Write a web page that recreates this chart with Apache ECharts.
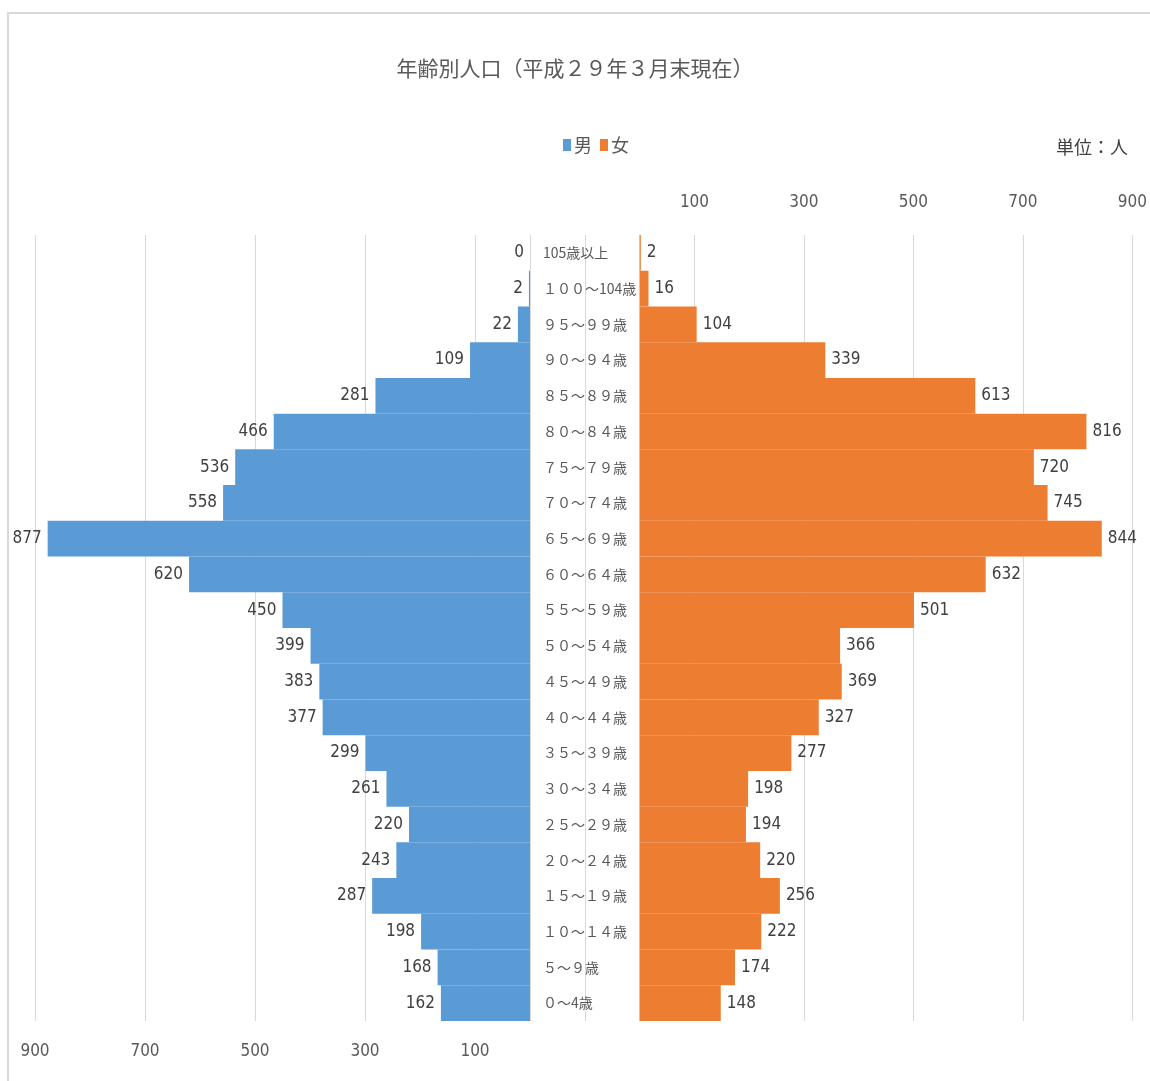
<!DOCTYPE html>
<html><head><meta charset="utf-8">
<script src="https://cdn.jsdelivr.net/npm/echarts@6/dist/echarts.min.js"></script>
<style>html,body{margin:0;padding:0;background:#fff}#c{width:1150px;height:1081px}</style>
</head><body><div id="c"></div>
<script>
const categories = ["０～4歳","５～９歳","１０～１４歳","１５～１９歳","２０～２４歳","２５～２９歳","３０～３４歳","３５～３９歳","４０～４４歳","４５～４９歳","５０～５４歳","５５～５９歳","６０～６４歳","６５～６９歳","７０～７４歳","７５～７９歳","８０～８４歳","８５～８９歳","９０～９４歳","９５～９９歳","１００～104歳","105歳以上"];
const male   = [162,168,198,287,243,220,261,299,377,383,399,450,620,877,558,536,466,281,109,22,2,0];
const female = [148,174,222,256,220,194,198,277,327,369,366,501,632,844,745,720,816,613,339,104,16,2];
const tickMin = -100, tickMax = 900, tickStep = 200;

const FONT = "'Liberation Sans Narrow','DejaVu Sans Condensed','Noto Sans CJK JP',sans-serif";
const JFONT = "'Noto Sans CJK JP',sans-serif";
const chart = echarts.init(document.getElementById('c'));
const grid = '#d9d9d9';
const xLabel = v => v < 0 ? '' : String(v);
chart.setOption({
  backgroundColor: '#fff',
  animation: false,
  title: {
    text: '年齢別人口（平成２９年３月末現在）',
    left: 'center', top: 53,
    textStyle: {fontFamily: JFONT, fontSize: 21, fontWeight: 'normal', color: '#595959'}
  },
  legend: {
    data: ['男','女'], left: 558, top: 131,
    itemWidth: 8, itemHeight: 12, itemGap: 8, icon: 'rect',
    textStyle: {fontFamily: JFONT, fontSize: 18, color: '#595959', padding: [0,0,0,-2]}
  },
  graphic: [
    {type: 'rect', shape: {x: 8, y: 13, width: 1170, height: 1100}, style: {fill: 'none', stroke: '#d9d9d9', lineWidth: 2}, silent: true},
    {type: 'text', left: 1056, top: 138, style: {text: '単位：人', font: "18px 'Noto Sans CJK JP'", fill: '#404040'}}
  ],
  grid: [
    {left: 35, width: 550, top: 235, height: 786},
    {left: 585, width: 550, top: 235, height: 786}
  ],
  xAxis: [
    {gridIndex: 0, type: 'value', inverse: true, min: tickMin, max: tickMax, interval: tickStep, position: 'bottom',
     axisLine: {show: false}, axisTick: {show: false},
     axisLabel: {formatter: xLabel, margin: 22, fontFamily: FONT, fontSize: 17, color: '#595959'},
     splitLine: {show: true, showMinLine: true, showMaxLine: true, lineStyle: {color: grid, width: 1}}},
    {gridIndex: 1, type: 'value', min: tickMin, max: tickMax, interval: tickStep, position: 'top',
     axisLine: {show: false}, axisTick: {show: false},
     axisLabel: {formatter: xLabel, margin: 24, fontFamily: FONT, fontSize: 17, color: '#595959'},
     splitLine: {show: true, showMinLine: true, showMaxLine: true, lineStyle: {color: grid, width: 1}}}
  ],
  yAxis: [
    {gridIndex: 0, type: 'category', data: categories,
     axisLine: {show: true, onZero: true, lineStyle: {color: grid}}, axisTick: {show: false}, axisLabel: {show: false}},
    {gridIndex: 1, type: 'category', data: categories,
     axisLine: {show: true, onZero: true, lineStyle: {color: grid}}, axisTick: {show: false},
     axisLabel: {show: true, align: 'left', margin: 42, fontFamily: JFONT, fontSize: 14, color: '#595959'}}
  ],
  series: [
    {name: '男', type: 'bar', xAxisIndex: 0, yAxisIndex: 0, data: male, barWidth: '100%', barCategoryGap: '0%',
     itemStyle: {color: '#5B9BD5'},
     label: {show: true, position: 'left', distance: 6, fontFamily: FONT, fontSize: 17, color: '#404040'}},
    {name: '女', type: 'bar', xAxisIndex: 1, yAxisIndex: 1, data: female, barWidth: '100%', barCategoryGap: '0%',
     itemStyle: {color: '#ED7D31'},
     label: {show: true, position: 'right', distance: 6, fontFamily: FONT, fontSize: 17, color: '#404040'}}
  ]
});
</script></body></html>
